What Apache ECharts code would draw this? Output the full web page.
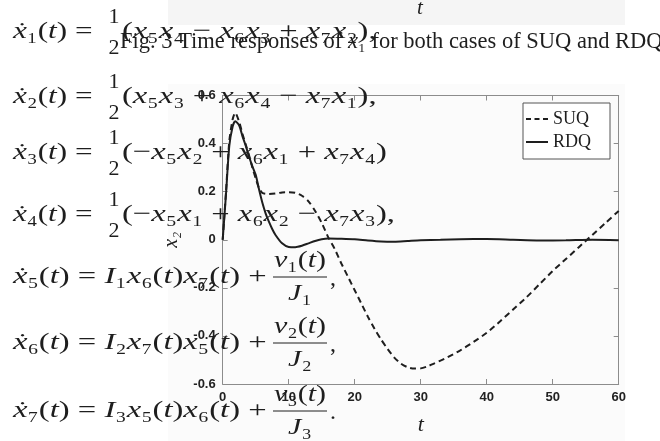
<!DOCTYPE html>
<html>
<head>
<meta charset="utf-8">
<script src="https://cdn.jsdelivr.net/npm/echarts@6/dist/echarts.min.js"></script>
<style>
html,body{margin:0;padding:0;background:#fff;}
#c{width:660px;height:441px;}
</style>
</head>
<body>
<div id="c"></div>
<script>
// ---- data ----
const tRDQ = [0,0.5,1,1.5,1.9,2.5,3,3.5,4,4.5,5,5.5,6,6.5,7,7.5,8,9,10,11,12,13,14,15,16,18,20,22,24,26,28,30,33,36,40,44,48,52,56,60];
const vRDQ = [0,0.19,0.39,0.47,0.493,0.475,0.43,0.39,0.345,0.305,0.27,0.21,0.155,0.11,0.075,0.045,0.02,-0.015,-0.03,-0.031,-0.025,-0.015,-0.005,0.002,0.005,0.004,0.002,-0.003,-0.007,-0.008,-0.005,-0.002,0,0.002,0.003,0,-0.003,-0.002,0,-0.002];
const tSUQ = [0,0.5,1,1.5,1.9,2.5,3,3.5,4,4.5,5,5.5,6,7,8,9,10,11,12,13,14,15,16,17,18,19,20,21,22,23,24,25,26,27,28,29,30,31,32,34,36,38,40,42,44,46,48,50,52,54,56,58,60];
const vSUQ = [0,0.2,0.41,0.5,0.528,0.49,0.44,0.395,0.35,0.3,0.255,0.215,0.195,0.19,0.192,0.197,0.198,0.195,0.183,0.16,0.12,0.07,0.01,-0.04,-0.1,-0.155,-0.21,-0.265,-0.32,-0.37,-0.415,-0.455,-0.49,-0.515,-0.53,-0.536,-0.535,-0.527,-0.515,-0.49,-0.46,-0.425,-0.387,-0.34,-0.29,-0.24,-0.185,-0.13,-0.08,-0.03,0.02,0.07,0.12];
const seriesNames = ['SUQ','RDQ'];
const xTicks = {min:0, max:60, step:10};
const yTicks = {min:-0.6, max:0.6, step:0.2};

// ---- overlaid text from the reference page ----
const eqLeft = ['ẋ₁(t) =','ẋ₂(t) =','ẋ₃(t) =','ẋ₄(t) ='];
const eqParen = ['(x₅x₄ − x₆x₃ + x₇x₂),','(x₅x₃ + x₆x₄ − x₇x₁),','(−x₅x₂ + x₆x₁ + x₇x₄)','(−x₅x₁ + x₆x₂ − x₇x₃),'];
const eqLong = ['ẋ₅(t) = I₁x₆(t)x₇(t) +','ẋ₆(t) = I₂x₇(t)x₅(t) +','ẋ₇(t) = I₃x₅(t)x₆(t) +'];
const eqNum = ['v₁(t)','v₂(t)','v₃(t)'];
const eqDen = ['J₁','J₂','J₃'];
const eqEnd = [',', ',', '.'];

const SERIF = "'Liberation Serif','DejaVu Serif',serif";
const INK = '#1e1e1e';

function toRich(str){
  let out = '', cur = null, buf = '';
  for (const ch of str){
    const k = /[A-Za-z\u1E8B]/.test(ch) ? 'i' : 'n';
    if (k !== cur){ if (buf) out += '{' + cur + '|' + buf + '}'; buf = ''; cur = k; }
    buf += ch;
  }
  if (buf) out += '{' + cur + '|' + buf + '}';
  return out;
}
function richStyles(size){
  return {
    i:{fontStyle:'italic', fontFamily:SERIF, fontSize:size, fill:INK},
    n:{fontStyle:'normal', fontFamily:SERIF, fontSize:size, fill:INK}
  };
}
function mtext(str, x, y, size, align, sx){
  return {type:'text', z:100, silent:true, x:x, y:y, scaleX:sx||1,
    style:{text:toRich(str), x:0, y:0, align:align||'left', verticalAlign:'middle', rich:richStyles(size), fontSize:size, fontFamily:SERIF, fill:INK}};
}

const graphics = [];
graphics.push({type:'rect', z:-10, silent:true, shape:{x:168,y:0,width:457,height:25}, style:{fill:'#f5f5f5'}});
graphics.push({type:'rect', z:-10, silent:true, shape:{x:168,y:84,width:457,height:357}, style:{fill:'#fbfbfb'}});
graphics.push(mtext('t', 420, 8, 21, 'center'));
graphics.push({type:'text', z:100, silent:true, style:{
  text:'{n|Fig. 3 Time responses of }{i|x}{n|₁ for both cases of SUQ and RDQ}', x:120, y:42, align:'left', verticalAlign:'middle',
  rich:richStyles(22.5), fontSize:22.5, fontFamily:SERIF, fill:INK}});
const yc = [32, 97, 153, 215];
for (let k=0;k<4;k++){
  graphics.push(mtext(eqLeft[k], 13, yc[k], 24, 'left', 1.3));
  graphics.push(mtext('1', 114, yc[k]-15, 22, 'center'));
  graphics.push(mtext('2', 114, yc[k]+16, 22, 'center'));
  graphics.push(mtext(eqParen[k], 122, yc[k], 24, 'left', 1.36));
}
const yl = [277, 343, 411];
for (let k=0;k<3;k++){
  graphics.push(mtext(eqLong[k], 13, yl[k], 24, 'left', 1.36));
  graphics.push(mtext(eqNum[k], 300, yl[k]-16, 24, 'center', 1.25));
  graphics.push({type:'line', z:100, silent:true, shape:{x1:273,y1:yl[k],x2:327,y2:yl[k]}, style:{stroke:INK, lineWidth:1}});
  graphics.push(mtext(eqDen[k], 300, yl[k]+17, 24, 'center', 1.25));
  graphics.push(mtext(eqEnd[k], 330, yl[k]+2, 24));
}

const AX = '#8c8c8c';
const chart = echarts.init(document.getElementById('c'), null, {renderer:'canvas'});
const xBase = {type:'value', min:xTicks.min, max:xTicks.max, interval:xTicks.step, splitLine:{show:false},
  axisLine:{show:true, onZero:false, lineStyle:{color:AX, width:1}}, axisTick:{show:true, inside:true, length:5, lineStyle:{color:AX}}};
const yBase = {type:'value', min:yTicks.min, max:yTicks.max, interval:yTicks.step, splitLine:{show:false},
  axisLine:{show:true, onZero:false, lineStyle:{color:AX, width:1}}, axisTick:{show:true, inside:true, length:5, lineStyle:{color:AX}}};
const labelStyle = {fontFamily:"'Liberation Sans',Arial,sans-serif", fontWeight:'bold', fontSize:13, color:'#222'};

chart.setOption({
  animation:false,
  backgroundColor:'transparent',
  graphic:graphics,
  grid:{left:222.7, right:41.3, top:95.5, bottom:39, containLabel:false},
  legend:{
    data:[
      {name:seriesNames[0], icon:'path://M0,0h5v2h-5z M8.5,0h5v2h-5z M17,0h5v2h-5z'},
      {name:seriesNames[1], icon:'path://M0,0h22v2h-22z'}
    ],
    orient:'vertical', left:523, top:103, itemWidth:22, itemHeight:2, itemGap:3,
    padding:[6,19,7,3], borderColor:'#555', borderWidth:1, backgroundColor:'#fff',
    itemStyle:{color:INK},
    textStyle:{fontFamily:SERIF, fontSize:18, color:INK, lineHeight:20}
  },
  xAxis:[
    Object.assign({}, xBase, {position:'bottom', axisLabel:Object.assign({margin:7}, labelStyle),
      name:'t', nameLocation:'middle', nameGap:30, nameTextStyle:{fontFamily:SERIF, fontStyle:'italic', fontSize:22, color:INK}}),
    Object.assign({}, xBase, {position:'top', axisLabel:{show:false}})
  ],
  yAxis:[
    Object.assign({}, yBase, {position:'left', axisLabel:Object.assign({margin:7}, labelStyle),
      name:'x₂', nameLocation:'middle', nameGap:41, nameTextStyle:{fontFamily:SERIF, fontStyle:'italic', fontSize:20, color:INK}}),
    Object.assign({}, yBase, {position:'right', axisLabel:{show:false}})
  ],
  series:[
    {name:seriesNames[0], type:'line', symbol:'none', smooth:0.25, data:tSUQ.map((t,i)=>[t,vSUQ[i]]),
      lineStyle:{color:INK, width:2, type:[6,4]}, itemStyle:{color:INK}, z:3},
    {name:seriesNames[1], type:'line', symbol:'none', smooth:0.25, data:tRDQ.map((t,i)=>[t,vRDQ[i]]),
      lineStyle:{color:INK, width:2, type:'solid'}, itemStyle:{color:INK}, z:4}
  ]
});
</script>
</body>
</html>
